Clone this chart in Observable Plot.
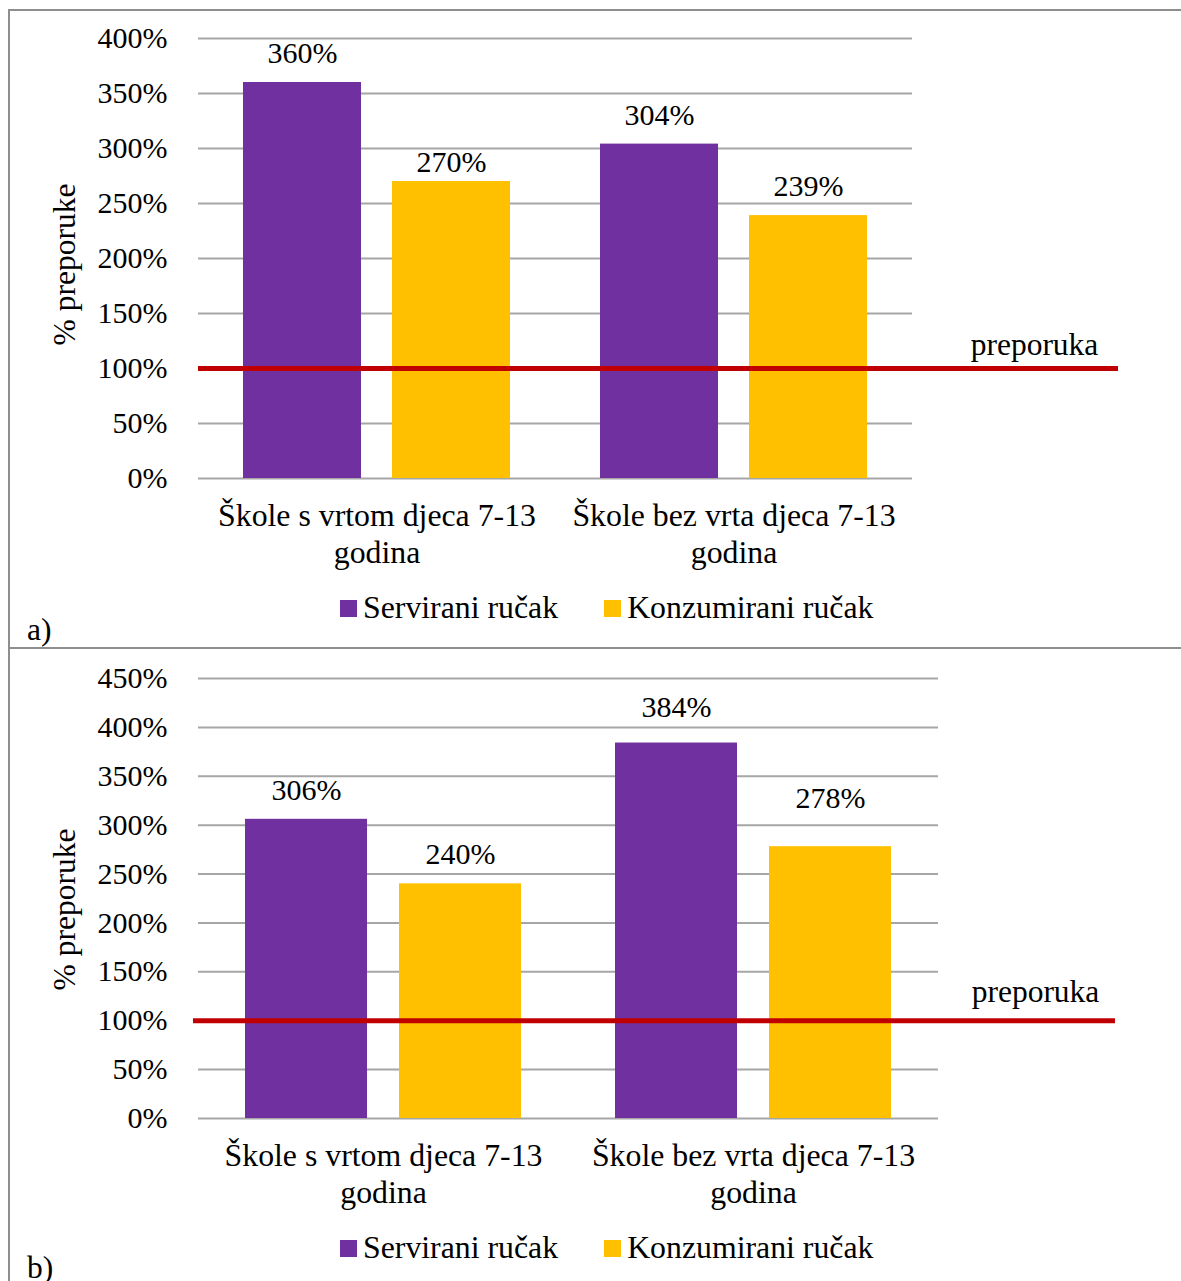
<!DOCTYPE html>
<html>
<head>
<meta charset="utf-8">
<script src="https://cdn.jsdelivr.net/npm/d3@7"></script>
<script src="https://cdn.jsdelivr.net/npm/@observablehq/plot@0.6"></script>
<style>
  html, body { margin: 0; padding: 0; background: #fff; }
  #page { position: relative; width: 1181px; height: 1281px; overflow: hidden; background: #fff;
          font-family: "Liberation Serif", "Times New Roman", serif; color: #000; }
  .frame { position: absolute; left: 8px; top: 9px; width: 1400px; height: 1400px;
           border-left: 2px solid #8e8e8e; border-top: 2px solid #8e8e8e; box-sizing: border-box; }
  .divider { position: absolute; left: 8px; top: 647px; width: 1400px; height: 2px; background: #8e8e8e; }
  .panel { position: absolute; left: 0; }
  .legend { position: absolute; left: 340px; display: flex; align-items: center;
            font-size: 31.8px; line-height: 34px; white-space: nowrap; }
  .legend .item { display: flex; align-items: center; }
  .legend .sw { width: 17px; height: 17px; margin-right: 6px; }
  .tag { position: absolute; left: 27px; font-size: 31.5px; line-height: 34px; }
</style>
</head>
<body>
<div id="page">
  <div class="frame"></div>
  <div class="divider"></div>
</div>
<script>
// ---- data ----
const groups = ["Škole s vrtom djeca 7-13 godina", "Škole bez vrta djeca 7-13 godina"];
const series = ["Servirani ručak", "Konzumirani ručak"];
const colors = ["#7030A0", "#FFC000"];
const servedA = [360, 304];
const consumedA = [270, 239];
const servedB = [306, 384];
const consumedB = [240, 278];
const ticksA = [0, 50, 100, 150, 200, 250, 300, 350, 400];
const ticksB = [0, 50, 100, 150, 200, 250, 300, 350, 400, 450];
const recommendation = 100;
const recommendationLabel = "preporuka";
const yLabel = "% preporuke";
const panelTags = ["a)", "b)"];

const page = document.getElementById("page");

function makePanel(cfg) {
  const rows = groups.flatMap((g, i) => [
    {group: g, series: series[0], value: cfg.served[i]},
    {group: g, series: series[1], value: cfg.consumed[i]}
  ]);
  const band = (cfg.xRange[1] - cfg.xRange[0]) / groups.length;
  const barW = cfg.barW, pad = cfg.pad;
  const insets = [
    {left: pad, right: band - pad - barW},
    {left: band - pad - barW, right: pad}
  ];
  const centers = insets.map(s => s.left + barW / 2 - band / 2);
  const grid = cfg.ticks.flatMap(t => groups.map(g => ({t, g})));
  const fontFamily = "'Liberation Serif', 'Times New Roman', serif";

  const labelMarks = rows.map((d, i) =>
    Plot.text([d], {x: "group", y: "value", text: r => r.value + "%",
      dx: centers[series.indexOf(d.series)], dy: cfg.labelDy[i], fontSize: 30, fill: "#000"}));

  const svg = Plot.plot({
    width: 1181,
    height: cfg.height,
    marginLeft: cfg.marginLeft,
    marginRight: cfg.marginRight,
    marginTop: cfg.marginTop,
    marginBottom: cfg.marginBottom,
    style: {fontFamily, fontSize: "30px", color: "#000", background: "transparent", overflow: "visible"},
    x: {type: "band", domain: groups, range: cfg.xRange, padding: 0},
    y: {domain: [0, cfg.ticks[cfg.ticks.length - 1]]},
    color: {domain: series, range: colors},
    marks: [
      Plot.tickY(grid, {x: "g", y: "t", stroke: "#a6a6a6", strokeWidth: 2}),
      ...series.map((s, k) => Plot.barY(rows.filter(d => d.series === s),
        {x: "group", y: "value", fill: "series", insetLeft: insets[k].left, insetRight: insets[k].right})),
      Plot.ruleY([recommendation], {stroke: "#C00000", strokeWidth: 5}),
      ...labelMarks,
      Plot.text([{label: recommendationLabel, v: recommendation}], {y: "v", text: "label", frameAnchor: "right", textAnchor: "middle", dx: cfg.recDx, dy: cfg.recDy, fontSize: 31.5, fill: "#000"}),
      Plot.text([yLabel], {frameAnchor: "left", text: d => d, rotate: -90, textAnchor: "middle", lineAnchor: "middle", dx: cfg.yLabDx, dy: cfg.yLabDy, fontSize: 31.5, fill: "#000"}),
      Plot.axisY({ticks: cfg.ticks, tickFormat: d => d + "%", tickSize: 0, tickPadding: cfg.tickPadY, fontSize: 30, label: null}),
      Plot.axisX({tickSize: 0, tickPadding: cfg.tickPadX, fontSize: 31.8, lineHeight: 1.17, tickFormat: d => d.replace(" godina", "\ngodina"), label: null})
    ]
  });
  const wrap = document.createElement("div");
  wrap.className = "panel";
  wrap.style.top = cfg.top + "px";
  wrap.appendChild(svg);
  page.appendChild(wrap);

  const legend = document.createElement("div");
  legend.className = "legend";
  legend.style.top = cfg.legendTop + "px";
  series.forEach((s, i) => {
    const it = document.createElement("div");
    it.className = "item";
    if (i > 0) it.style.marginLeft = "46px";
    const sw = document.createElement("span");
    sw.className = "sw";
    sw.style.background = colors[i];
    const tx = document.createElement("span");
    tx.textContent = s;
    it.appendChild(sw); it.appendChild(tx);
    legend.appendChild(it);
  });
  page.appendChild(legend);

  const tag = document.createElement("div");
  tag.className = "tag";
  tag.style.top = cfg.tagTop + "px";
  tag.textContent = cfg.tag;
  page.appendChild(tag);
}

makePanel({
  served: servedA, consumed: consumedA, ticks: ticksA, tag: panelTags[0],
  top: 0, height: 580, marginTop: 38, marginBottom: 102, marginLeft: 198, marginRight: 63,
  xRange: [198, 912], barW: 118, pad: 45, tickPadY: 31, tickPadX: 21,
  labelDy: [-29, -19, -29, -29],
  recDx: -84, recDy: -24, yLabDx: -134, yLabDy: 6, legendTop: 591, tagTop: 613
});
makePanel({
  served: servedB, consumed: consumedB, ticks: ticksB, tag: panelTags[1],
  top: 650, height: 570, marginTop: 28, marginBottom: 102, marginLeft: 193, marginRight: 66,
  xRange: [198, 938], barW: 122, pad: 47, tickPadY: 26, tickPadX: 21,
  labelDy: [-29, -29, -36, -48],
  recDx: -80, recDy: -29, yLabDx: -129, yLabDy: 11, legendTop: 1231, tagTop: 1251
});
</script>
</body>
</html>
